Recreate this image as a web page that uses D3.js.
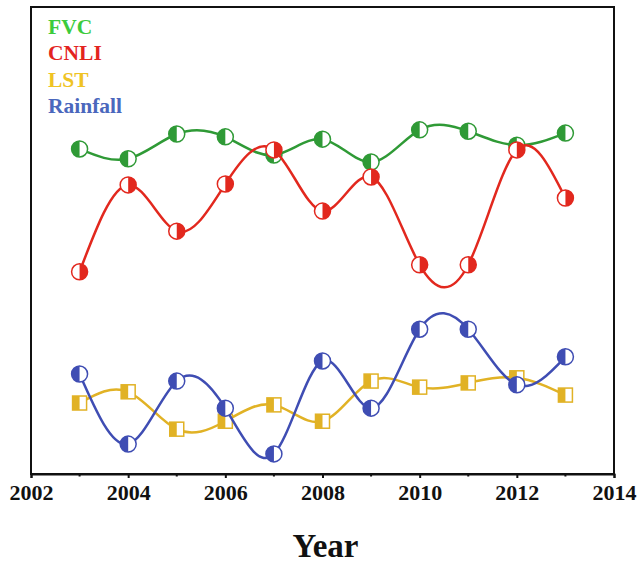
<!DOCTYPE html>
<html>
<head>
<meta charset="utf-8">
<script src="https://cdn.jsdelivr.net/npm/d3@7"></script>
<style>
    body { margin: 0; background: #fff; }
    text { font-family: "Liberation Serif", "Times New Roman", serif; font-weight: bold; }
</style>
</head>
<body>
<svg id="chart" width="638" height="564"></svg>
<script>
// years on the x axis
var years = [2003, 2004, 2005, 2006, 2007, 2008, 2009, 2010, 2011, 2012, 2013];
var xTicks = [2002, 2004, 2006, 2008, 2010, 2012, 2014];
var xMinorTicks = [2003, 2005, 2007, 2009, 2011, 2013];

// relative index values (no y labels in the source figure)
var fvc      = [69.6, 67.5, 72.8, 72.2, 68.3, 71.7, 66.8, 73.7, 73.4, 70.4, 73.0];
var cnli     = [43.3, 61.9, 52.0, 62.1, 69.4, 56.3, 63.6, 44.8, 44.8, 69.4, 59.1];
var lst      = [15.2, 17.6, 9.6, 11.3, 14.8, 11.3, 19.9, 18.6, 19.5, 20.6, 16.9];
var rainfall = [21.4, 6.4, 19.9, 14.1, 4.3, 24.2, 14.1, 31.0, 31.0, 19.1, 25.1];

var seriesNames = ["FVC", "CNLI", "LST", "Rainfall"];

var series = [
    {name: seriesNames[0], values: fvc, color: "#2f9a36", legend: "#3ccb3c", shape: "circle", fillSide: "left"},
    {name: seriesNames[1], values: cnli, color: "#e2281e", legend: "#e3241f", shape: "circle", fillSide: "right"},
    {name: seriesNames[2], values: lst, color: "#e1b225", legend: "#efc324", shape: "square", fillSide: "left"},
    {name: seriesNames[3], values: rainfall, color: "#3f4db3", legend: "#4a67bd", shape: "circle", fillSide: "left"}
];

var svg = d3.select("#chart");
var plotL = 31, plotR = 614, plotT = 7, plotB = 474;

var x = d3.scaleLinear().domain([2002, 2014]).range([plotL, plotR]);
var y = d3.scaleLinear().domain([0, 100]).range([plotB, plotT]);

// frame
svg.append("rect")
    .attr("x", plotL).attr("y", plotT)
    .attr("width", plotR - plotL).attr("height", plotB - plotT)
    .attr("fill", "none")
    .attr("stroke", "#111")
    .attr("stroke-width", 2);

// x axis
var xAxis = d3.axisBottom(x)
    .tickValues(xTicks)
    .tickFormat(d3.format("d"))
    .tickSize(4)
    .tickPadding(6);

var axisG = svg.append("g")
    .attr("transform", "translate(0," + plotB + ")")
    .call(xAxis);
axisG.select(".domain").attr("stroke", "#111").attr("stroke-width", 2);
axisG.selectAll(".tick line").attr("stroke", "#111").attr("stroke-width", 2);
axisG.selectAll(".tick text")
    .attr("fill", "#111")
    .style("font-size", "22px")
    .style("font-family", "'Liberation Serif', serif")
    .style("font-weight", "bold");

axisG.selectAll(".minor")
    .data(xMinorTicks)
    .enter().append("line")
    .attr("class", "minor")
    .attr("x1", function(d) { return x(d); })
    .attr("x2", function(d) { return x(d); })
    .attr("y1", 0).attr("y2", 2.5)
    .attr("stroke", "#111")
    .attr("stroke-width", 2);

svg.append("text")
    .attr("x", (plotL + plotR) / 2 + 3)
    .attr("y", 557)
    .attr("text-anchor", "middle")
    .style("font-size", "33px")
    .attr("fill", "#111")
    .text("Year");

var line = d3.line()
    .x(function(d, i) { return x(years[i]); })
    .y(function(d) { return y(d); })
    .curve(d3.curveNatural);

var r = 8, sq = 7;

series.forEach(function(s) {
    var g = svg.append("g").attr("class", "series");

    g.append("path")
        .datum(s.values)
        .attr("d", line)
        .attr("fill", "none")
        .attr("stroke", s.color)
        .attr("stroke-width", 2.5);

    var marks = g.selectAll(".mark")
        .data(s.values)
        .enter().append("g")
        .attr("class", "mark")
        .attr("transform", function(d, i) {
            return "translate(" + x(years[i]) + "," + y(d) + ")";
        });

    if (s.shape === "circle") {
        marks.append("circle")
            .attr("r", r)
            .attr("fill", "#fff");
        // half disc
        var sweep = s.fillSide === "left" ? 0 : 1;
        marks.append("path")
            .attr("d", "M0," + (-r) + " A" + r + "," + r + " 0 0," + sweep + " 0," + r + " Z")
            .attr("fill", s.color);
        marks.append("circle")
            .attr("r", r)
            .attr("fill", "none")
            .attr("stroke", s.color)
            .attr("stroke-width", 1.5);
    } else {
        marks.append("rect")
            .attr("x", -sq).attr("y", -sq)
            .attr("width", sq * 2).attr("height", sq * 2)
            .attr("fill", "#fff");
        marks.append("rect")
            .attr("x", s.fillSide === "left" ? -sq : 0).attr("y", -sq)
            .attr("width", sq).attr("height", sq * 2)
            .attr("fill", s.color);
        marks.append("rect")
            .attr("x", -sq).attr("y", -sq)
            .attr("width", sq * 2).attr("height", sq * 2)
            .attr("fill", "none")
            .attr("stroke", s.color)
            .attr("stroke-width", 1.5);
    }
});

// legend (text only, coloured like the series)
svg.selectAll(".legend")
    .data(series)
    .enter().append("text")
    .attr("class", "legend")
    .attr("x", 48)
    .attr("y", function(d, i) { return 34 + i * 26.3; })
    .attr("fill", function(d) { return d.legend; })
    .style("font-size", "21.5px")
    .text(function(d) { return d.name; });
</script>
</body>
</html>
